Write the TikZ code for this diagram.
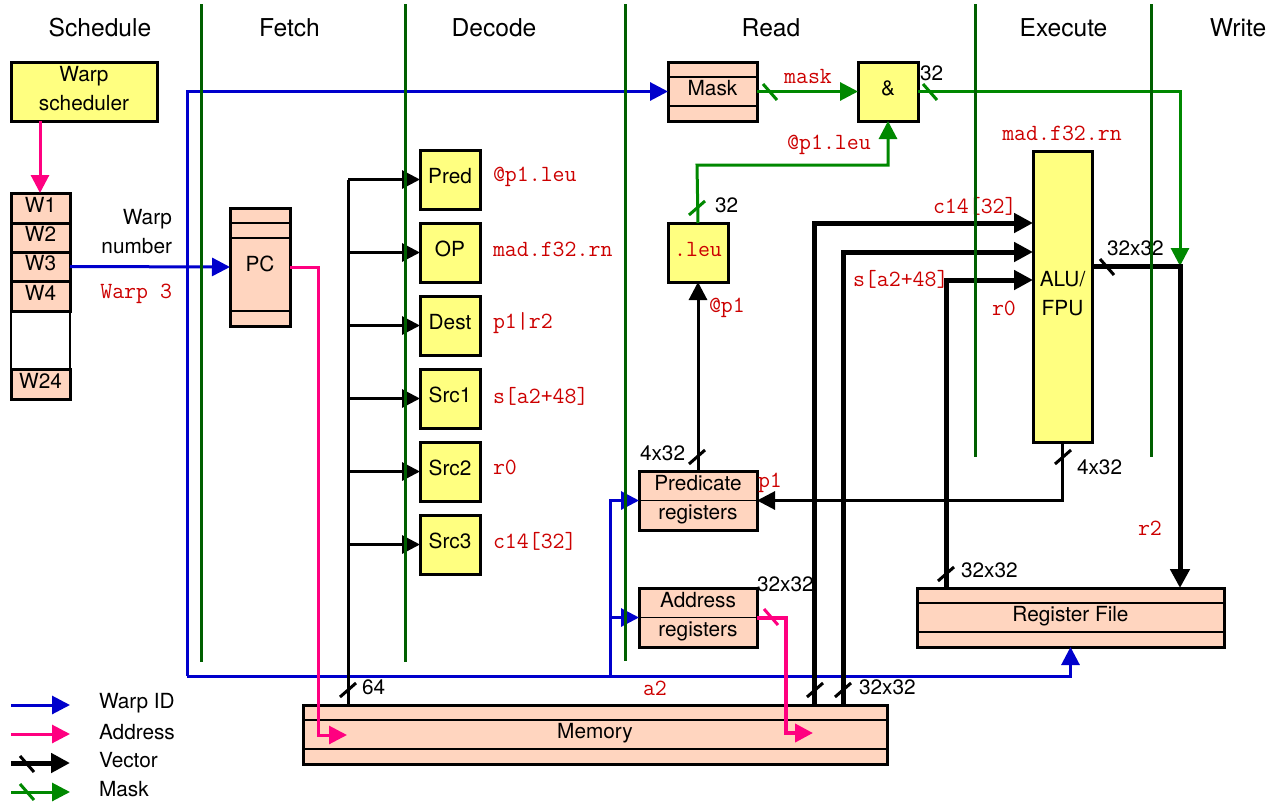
\documentclass[tikz,border=0pt]{standalone}
\usepackage{fontspec}
\setmainfont{TeX Gyre Heros}
\setmonofont{Latin Modern Mono}
\usetikzlibrary{arrows.meta,calc}
\definecolor{byel}{RGB}{255,255,128}
\definecolor{bsal}{RGB}{255,213,191}
\definecolor{wblue}{RGB}{0,0,204}
\definecolor{apink}{RGB}{255,0,128}
\definecolor{mgreen}{RGB}{0,136,0}
\definecolor{sgreen}{RGB}{0,95,0}
\definecolor{cred}{RGB}{204,0,0}
\newcommand\codet[1]{{\ttfamily\fontsize{23.2}{26}\selectfont\color{cred}#1}}
\newcommand\slH[3][black]{\draw[#1,line width=3pt] (#2-7,#3-8) -- (#2+7,#3+8);}
\newcommand\slV[3][black]{\draw[#1,line width=3pt] (#2-8,#3+7) -- (#2+8,#3-7);}
\begin{document}
\begin{tikzpicture}[x=1pt,y=-1pt,
  every node/.style={font=\fontsize{20.8}{29}\selectfont},
  box/.style={draw, line width=3pt, inner sep=0pt, outer sep=0pt, anchor=north west, align=center, text depth=7pt},
  ybox/.style={box, fill=byel},
  sbox/.style={box, fill=bsal},
  strips/.style={path picture={
     \draw[line width=1.3pt] ([yshift=-15pt]path picture bounding box.north west) -- ([yshift=-15pt]path picture bounding box.north east);
     \draw[line width=1.3pt] ([yshift=15pt]path picture bounding box.south west) -- ([yshift=15pt]path picture bounding box.south east);}},
  pcstrips/.style={path picture={
     \draw[line width=1.3pt] ([yshift=-15pt]path picture bounding box.north west) -- ([yshift=-15pt]path picture bounding box.north east);
     \draw[line width=1.3pt] ([yshift=-30pt]path picture bounding box.north west) -- ([yshift=-30pt]path picture bounding box.north east);
     \draw[line width=1.3pt] ([yshift=15pt]path picture bounding box.south west) -- ([yshift=15pt]path picture bounding box.south east);}},
  midline/.style={path picture={
     \draw[line width=1.3pt] (path picture bounding box.west) -- (path picture bounding box.east);}},
  lbl/.style={inner sep=0pt, outer sep=0pt},
  hdr/.style={lbl, font=\fontsize{24.6}{29}\selectfont},
  wire/.style={line width=3pt},
  vec/.style={line width=5pt},
  tip/.style={-{Triangle[length=18pt,width=18pt]}},
  tipv/.style={-{Triangle[length=19pt,width=19pt]}},
  stage/.style={line width=3pt, sgreen}
]
\useasboundingbox (0,0) rectangle (1283,803);

% headers
\node[hdr] (hS) at (100,28) {Schedule};
\node[hdr] (hF) at (289.5,28) {Fetch};
\node[hdr] (hD) at (494,28) {Decode};
\node[hdr] (hR) at (771,28) {Read};
\node[hdr] (hE) at (1063.5,28) {Execute};
\node[hdr] (hW) at (1238,28) {Write};

% schedule
\node[ybox, minimum width=146pt, minimum height=59pt] (sched) at (11,62) {Warp\\scheduler};
\node[box, line width=1.2pt, fill=white, minimum width=59pt, minimum height=58pt] (wgap) at (11,311) {};
\node[sbox, minimum width=59pt, minimum height=30pt] (w1) at (11,193) {W1};
\node[sbox, minimum width=59pt, minimum height=29pt] (w2) at (11,223) {W2};
\node[sbox, minimum width=59pt, minimum height=29pt] (w3) at (11,252) {W3};
\node[sbox, minimum width=59pt, minimum height=30pt] (w4) at (11,281) {W4};
\node[sbox, minimum width=59pt, minimum height=30pt] (w24) at (11,369) {W24};
\node[lbl, anchor=east, align=right] (wn) at (172,232) {Warp\\number};
\node[lbl, anchor=east] (w3l) at (172,294) {\codet{Warp 3}};

% fetch
\node[sbox, pcstrips, minimum width=60pt, minimum height=118pt] (pc) at (230,208) {PC};

% decode
\foreach \n/\t/\y in {pred/Pred/150, op/OP/223, dest/Dest/296, srcA/Src1/369, srcB/Src2/442, srcC/Src3/515}
  \node[ybox, minimum width=60pt, minimum height=59pt] (\n) at (420,\y) {\t};
\node[lbl, anchor=west] (lpred) at (493,177) {\codet{@p1.leu}};
\node[lbl, anchor=west] (lop) at (493,249) {\codet{mad.f32.rn}};
\node[lbl, anchor=west] (ldest) at (493,323) {\codet{p1|r2}};
\node[lbl, anchor=west] (lsa) at (493,396) {\codet{s[a2+48]}};
\node[lbl, anchor=west] (lsb) at (493,467) {\codet{r0}};
\node[lbl, anchor=west] (lsc) at (493,541) {\codet{c14[32]}};

% read
\node[sbox, strips, minimum width=89pt, minimum height=59pt] (mask) at (668,62) {Mask};
\node[ybox, minimum width=60pt, minimum height=59pt] (and) at (858,62) {\&};
\node[ybox, minimum width=60pt, minimum height=59pt] (leu) at (668,223) {\codet{.leu}};
\node[sbox, midline, minimum width=118pt, minimum height=59pt] (predreg) at (639,471) {Predicate\\registers};
\node[sbox, midline, minimum width=118pt, minimum height=59pt] (addrreg) at (639,588) {Address\\registers};

% execute / write
\node[ybox, minimum width=59pt, minimum height=291pt] (alu) at (1033,151) {ALU/\\FPU};
\node[sbox, strips, minimum width=307pt, minimum height=59pt] (rf) at (917,588) {Register File};

% memory
\node[sbox, strips, minimum width=584pt, minimum height=59pt] (mem) at (303,705) {Memory};

% labels
\node[lbl] (lmask) at (808,76) {\codet{mask}};
\node[lbl, anchor=west] (l32a) at (920,73) {32};
\node[lbl] (lpleu) at (829,145) {\codet{@p1.leu}};
\node[lbl, anchor=west] (l32b) at (715,205) {32};
\node[lbl, anchor=west] (lp1a) at (709,308) {\codet{@p1}};
\node[lbl, anchor=west] (l4a) at (640,453) {4x32};
\node[lbl, anchor=west] (lp1b) at (758,483) {\codet{p1}};
\node[lbl, anchor=west] (l32c) at (757,584) {32x32};
\node[lbl, anchor=west] (la2) at (643,688) {\codet{a2}};
\node[lbl, anchor=west] (l64) at (362,687) {64};
\node[lbl, anchor=west] (l32d) at (859,687) {32x32};
\node[lbl, anchor=west] (lc14) at (933,206) {\codet{c14[32]}};
\node[lbl, anchor=west] (ls) at (853,279) {\codet{s[a2+48]}};
\node[lbl, anchor=west] (lr0) at (992,308) {\codet{r0}};
\node[lbl] (lmad) at (1062,133) {\codet{mad.f32.rn}};
\node[lbl, anchor=west] (l32e) at (1107,248) {32x32};
\node[lbl, anchor=west] (l4b) at (1077,467) {4x32};
\node[lbl, anchor=west] (lr2) at (1138,528) {\codet{r2}};
\node[lbl, anchor=west] (l32f) at (961,570) {32x32};

% coordinates
\coordinate (bTop) at (187,92);
\coordinate (bBot) at (187,676);
\coordinate (bJ) at (610,676);
\coordinate (pcTurn) at (318,735);
\coordinate (pcEnd) at (347,735);
\coordinate (adTurn) at (786,733);
\coordinate (adEnd) at (813,733);
\coordinate (busTop) at (348,179.5);
\coordinate (gUp) at (697,165);
\coordinate (gJ) at (1180,266);

% blue (warp id)
\draw[wire, wblue, tip] (w3.east) -- (pc.west);
\draw[wire, wblue, tip] (bBot) |- (mask.west);
\draw[wire, wblue, tip] (bBot) -| (rf.south);
\draw[wire, wblue, tip] (bJ) |- (predreg.west);
\draw[wire, wblue, tip] (bJ) |- (addrreg.west);

% pink (address)
\draw[wire, apink, tip] ([xshift=29pt]sched.south west) -- ([xshift=29pt]w1.north west);
\draw[wire, apink, tip] (pc.east) -| (pcTurn) -- (pcEnd);
\draw[line width=4pt, apink, tip] (addrreg.east) -| (adTurn) -- (adEnd);
\slH[apink]{771}{617}

% decode bus
\draw[wire] (busTop) -- (busTop |- mem.north);
\foreach \n in {pred,op,dest,srcA,srcB,srcC}
  \draw[wire, tip] (busTop |- \n.west) -- (\n.west);
\slV{348}{690}

% green (mask)
\draw[wire, mgreen, tip] (mask.east) -- (and.west);
\slH[mgreen]{770}{92}
\draw[wire, mgreen, tip] (leu.north) -- (gUp) -| (and.south);
\slV[mgreen]{697}{208}
\draw[wire, mgreen, tip] (and.east) -| (gJ);
\slH[mgreen]{930}{92}

% black thin
\draw[wire, tip] (predreg.north) -- (leu.south);
\slV{697}{457}
\draw[wire, tip] (alu.south) |- (predreg.east);
\slV{1063}{457}

% black thick (vector)
\draw[vec, tipv] ([xshift=511pt]mem.north west) |- ([yshift=-72pt]alu.north west);
\draw[vec, tipv] ([xshift=540pt]mem.north west) |- ([yshift=-101pt]alu.north west);
\draw[vec, tipv] ([xshift=29pt]rf.north west) |- ([yshift=-129pt]alu.north west);
\draw[vec, tipv] ([yshift=-115pt]alu.north east) -| ([xshift=-44pt]rf.north east);
\slV{815}{690}
\slV{843}{690}
\slV{946}{574}
\slH{1107}{267}

% stage separators
\draw[stage] (201,4) -- (201,662);
\draw[stage] (405,4) -- (405,662);
\draw[stage] (625,4) -- (625,661);
\draw[stage] (975,4) -- (975,457);
\draw[stage] (1151,4) -- (1151,457);

% legend
\coordinate (lg1a) at (11,705); \coordinate (lg1b) at (70,705);
\coordinate (lg2a) at (11,734); \coordinate (lg2b) at (70,734);
\coordinate (lg3a) at (11,763); \coordinate (lg3b) at (70,763);
\coordinate (lg4a) at (11,792); \coordinate (lg4b) at (70,792);
\draw[wire, wblue, tip] (lg1a) -- (lg1b);
\draw[wire, apink, tip] (lg2a) -- (lg2b);
\draw[vec, tipv] (lg3a) -- (lg3b);
\slH{27}{764}
\draw[wire, mgreen, tip] (lg4a) -- (lg4b);
\slH[mgreen]{27}{792}
\node[lbl, anchor=west] (lgt1) at (99,703) {Warp ID};
\node[lbl, anchor=west] (lgt2) at (99,732) {Address};
\node[lbl, anchor=west] (lgt3) at (99,760) {Vector};
\node[lbl, anchor=west] (lgt4) at (99,789) {Mask};
\end{tikzpicture}
\end{document}
